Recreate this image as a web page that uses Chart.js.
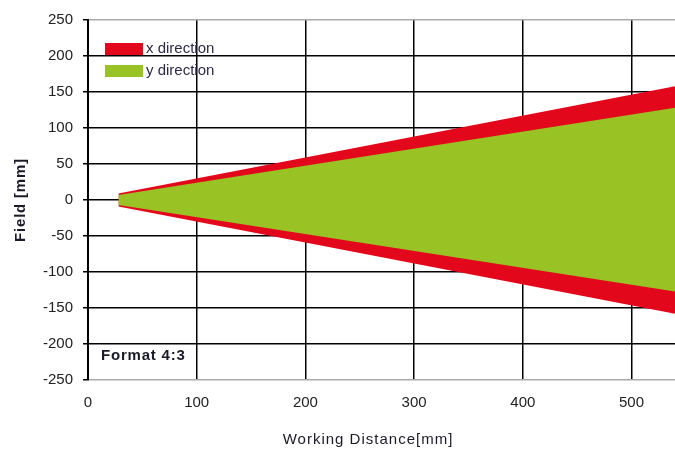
<!DOCTYPE html>
<html>
<head>
<meta charset="utf-8">
<script src="https://cdn.jsdelivr.net/npm/chart.js@4.4.0/dist/chart.umd.min.js"></script>
<style>
html,body{margin:0;padding:0;background:#fff;}
#wrap{width:675px;height:452px;position:relative;}
</style>
</head>
<body>
<div id="wrap"><canvas id="c"></canvas></div>
<script>
const distance = [28, 540];
const xHalfTop = [9, 158];
const xHalfBottom = [-9, -158];
const yHalfTop = [7, 128];
const yHalfBottom = [-7, -127];
const xTickValues = [0, 100, 200, 300, 400, 500];
const yTickValues = [-250, -200, -150, -100, -50, 0, 50, 100, 150, 200, 250];
const seriesNames = ['x direction', 'y direction'];
const RED = '#E3071B';
const GREEN = '#99C224';
const FONT = '"Liberation Sans", Arial, sans-serif';

function pts(ys){ return distance.map((d,i)=>({x:d,y:ys[i]})); }

const overlay = {
  id:'overlay',
  afterDraw(chart){
    const ctx = chart.ctx;
    ctx.save();
    const items = [[RED, seriesNames[0], 43],[GREEN, seriesNames[1], 65]];
    ctx.font = '15px ' + FONT;
    ctx.textBaseline = 'middle';
    items.forEach(([c,t,y])=>{
      ctx.fillStyle = c;
      ctx.fillRect(105, y, 38, 12);
      ctx.fillStyle = '#2d2a4a';
      ctx.fillText(t, 146, y+6);
    });
    ctx.font = 'bold 15px ' + FONT;
    ctx.fillStyle = '#1a1a2a';
    ctx.letterSpacing = '0.8px';
    ctx.fillText('Format 4:3', 101, 356);
    ctx.font = '15px ' + FONT;
    ctx.letterSpacing = '1px';
    ctx.textAlign = 'center';
    ctx.fillText('Working Distance[mm]', 368, 440);
    ctx.translate(21, 200);
    ctx.rotate(-Math.PI/2);
    ctx.font = 'bold 15px ' + FONT;
    ctx.letterSpacing = '0.8px';
    ctx.fillText('Field [mm]', 0, 0);
    ctx.restore();
  }
};

new Chart(document.getElementById('c'), {
  type:'line',
  data:{
    datasets:[
      {label:seriesNames[1], data:pts(yHalfTop), borderWidth:0, pointRadius:0, backgroundColor:GREEN, fill:'+1'},
      {label:seriesNames[1]+' lower', data:pts(yHalfBottom), borderWidth:0, pointRadius:0, backgroundColor:GREEN, fill:false},
      {label:seriesNames[0], data:pts(xHalfTop), borderWidth:0, pointRadius:0, backgroundColor:RED, fill:'+1'},
      {label:seriesNames[0]+' lower', data:pts(xHalfBottom), borderWidth:0, pointRadius:0, backgroundColor:RED, fill:false}
    ]
  },
  options:{
    responsive:true, maintainAspectRatio:false, animation:false,
    layout:{padding:{left:0,right:0,top:20,bottom:0}},
    plugins:{legend:{display:false}, tooltip:{enabled:false}},
    scales:{
      x:{
        type:'linear', min:0, max:540,
        afterBuildTicks(s){ s.ticks = xTickValues.map(v=>({value:v})); },
        afterFit(s){ s.height = 72; },
        grid:{color:'#000', lineWidth:1.5, drawTicks:false},
        border:{display:false},
        ticks:{padding:14, color:'#222', font:{family:FONT, size:15}, maxRotation:0}
      },
      y:{
        min:-250, max:250,
        afterBuildTicks(s){ s.ticks = yTickValues.map(v=>({value:v})); },
        afterFit(s){ s.width = 88; },
        grid:{color:(c)=> (c.tick && Math.abs(c.tick.value)===250) ? '#aaaaaa' : '#000', lineWidth:1.5, tickLength:5, tickColor:'#000'},
        border:{display:true, color:'#000', width:2},
        ticks:{padding:10, color:'#222', font:{family:FONT, size:15}}
      }
    }
  },
  plugins:[overlay]
});
</script>
</body>
</html>
